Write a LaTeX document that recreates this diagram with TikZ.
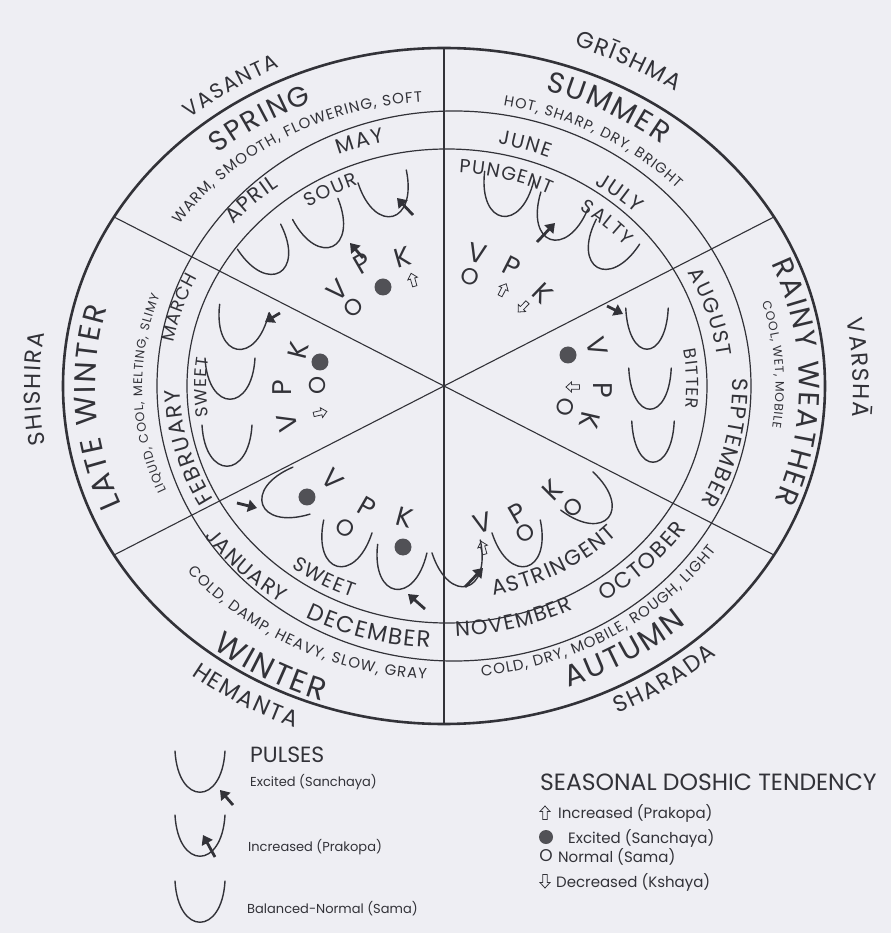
\documentclass[tikz,border=0pt]{standalone}
\usepackage{fontspec}
\setmainfont{Poppins}
\usepackage{xcolor}
\usetikzlibrary{decorations.text, arrows.meta}

\definecolor{ink}{RGB}{50,50,56}
\definecolor{paper}{RGB}{238,238,243}

% letters of a label with a little air between them
\ExplSyntaxOn
\tl_new:N \wheeltext
\NewDocumentCommand{\spacedtext}{m m}
  {
    \tl_set:Nn \wheeltext { |\fontsize{#1}{#1}\selectfont| }
    \str_map_inline:nn {#2}
      { \tl_put_right:Nn \wheeltext { ##1 {\kern0.07em} } }
  }
\ExplSyntaxOff

% text along an elliptic arc: cw = tops outward, ccw = tops inward
\newcommand{\cwtext}[4]{%
  \spacedtext{#3}{#4}%
  \path[decorate, decoration={text along path, text align=center, text color=ink,
    text/.expand once=\wheeltext}]
    ({#1+60}:{381*#2} and {338*#2})
    arc[start angle={#1+60}, end angle={#1-60}, x radius={381*#2}, y radius={338*#2}];}
\newcommand{\ccwtext}[4]{%
  \spacedtext{#3}{#4}%
  \path[decorate, decoration={text along path, text align=center, text color=ink,
    text/.expand once=\wheeltext}]
    ({#1-60}:{381*#2} and {338*#2})
    arc[start angle={#1-60}, end angle={#1+60}, x radius={381*#2}, y radius={338*#2}];}

\begin{document}
\begin{tikzpicture}[x=1pt, y=1pt, ink, line cap=round,
  rim/.style={line width=2.6pt},
  ring/.style={line width=1.2pt},
  spoke/.style={line width=1.1pt},
  pulse/.pic={\draw[line width=1.4pt] (-25,42) .. controls (-22,-13) and (22,-13) .. (25,42);},
  uparr/.pic={\draw[line width=0.8pt, line join=miter] (0,7) -- (5,1.5) -- (2.2,1.5) -- (2.2,-6.5) -- (-2.2,-6.5) -- (-2.2,1.5) -- (-5,1.5) -- cycle;},
  hit/.style={-{Triangle[length=9pt, width=12pt]}, line width=2.8pt, line cap=butt},
  dosha/.style={font=\fontsize{27}{27}\selectfont, inner sep=0pt},
  samaO/.style={font=\fontsize{23}{23}\selectfont, inner sep=0pt},
  blob/.style={circle, fill=ink!85, minimum size=17pt, inner sep=0pt},
  keytext/.style={font=\fontsize{13}{13}\selectfont, anchor=base west, inner sep=0pt}]

  \fill[paper] (-444,-547) rectangle (447,386);
  \useasboundingbox (-444,-547) rectangle (447,386);

  % wheel
  \draw[rim] (0,0) ellipse[x radius=381, y radius=338];
  \draw[ring] (10,0) ellipse[x radius=297, y radius=275];
  \draw[ring] (3,0) ellipse[x radius=260, y radius=237];
  \draw[spoke] (90:381 and 338) -- (270:381 and 338);
  \draw[spoke] (30:381 and 338) -- (210:381 and 338);
  \draw[spoke] (150:381 and 338) -- (330:381 and 338);

  % spring
  \cwtext{124.5}{1.036}{21}{VASANTA}
  \cwtext{123.7}{.908}{28}{SPRING}
  \cwtext{121.3}{.843}{15}{WARM, SMOOTH, FLOWERING, SOFT}
  \cwtext{108.4}{.738}{21}{MAY}
  \cwtext{135.1}{.731}{21}{APRIL}
  \cwtext{119.3}{.636}{19}{SOUR}
  % summer
  \cwtext{61}{1.062}{23}{GRĪSHMA}
  \cwtext{60}{.915}{29}{SUMMER}
  \cwtext{59.5}{.845}{14.5}{HOT, SHARP, DRY, BRIGHT}
  \cwtext{71.8}{.73}{20}{JUNE}
  \cwtext{48.3}{.716}{21}{JULY}
  \cwtext{73.8}{.632}{19}{PUNGENT}
  \cwtext{45.7}{.632}{19}{SALTY}
  % rainy weather
  \cwtext{15.7}{.722}{21}{AUGUST}
  \cwtext{-11.9}{.757}{22}{SEPTEMBER}
  \cwtext{1.6}{.637}{17.3}{BITTER}
  \cwtext{3.7}{.87}{12.3}{COOL, WET, MOBILE}
  \cwtext{0.5}{.933}{29}{RAINY WEATHER}
  \cwtext{2.5}{1.074}{23}{VARSHĀ}
  % late winter
  \cwtext{180.3}{1.06}{23}{SHISHIRA}
  \cwtext{183.4}{.915}{30}{LATE WINTER}
  \cwtext{181.5}{.792}{12.6}{LIQUID, COOL, MELTING, SLIMY}
  \cwtext{193.7}{.692}{22}{FEBRUARY}
  \cwtext{163}{.722}{18}{MARCH}
  \cwtext{180.2}{.624}{17.3}{SWEET}
  % autumn
  \ccwtext{-42.5}{.764}{22}{OCTOBER}
  \ccwtext{-73.9}{.741}{21}{NOVEMBER}
  \ccwtext{-59}{.633}{21.5}{ASTRINGENT}
  \ccwtext{-57}{.864}{15}{COLD, DRY, MOBILE, ROUGH, LIGHT}
  \ccwtext{-56.5}{.949}{30}{AUTUMN}
  \ccwtext{-54}{1.071}{23}{SHARADA}
  % winter
  \ccwtext{-106.4}{.775}{23}{DECEMBER}
  \ccwtext{223.5}{.77}{21}{JANUARY}
  \ccwtext{239.1}{.67}{20}{SWEET}
  \ccwtext{241.5}{.868}{15}{COLD, DAMP, HEAVY, SLOW, GRAY}
  \ccwtext{239.6}{.985}{31}{WINTER}
  \ccwtext{238.5}{1.083}{23}{HEMANTA}

  % spring doshas
  \pic[rotate=30] at (-164,113) {pulse};
  \pic[rotate=25] at (-111,139) {pulse};
  \pic[rotate=15] at (-51,169) {pulse};
  \draw[hit] (-81,128) -- (-94,143);
  \draw[hit] (-31,171) -- (-47,188);
  \node[dosha, rotate=44] (spV) at (-106,96) {V};
  \node[dosha, rotate=30] (spP) at (-81,123) {P};
  \node[dosha, rotate=16] (spK) at (-41,129) {K};
  \node[samaO, rotate=44] (spO) at (-91,79) {O};
  \node[blob] (spD) at (-61,99) {};
  \pic[rotate=16] at (-31,106) {uparr};

  % summer doshas
  \pic[rotate=-10] at (58,169) {pulse};
  \pic[rotate=-20] at (106,146) {pulse};
  \pic[rotate=-30] at (153,118) {pulse};
  \draw[hit] (93,144) -- (111,163);
  \node[dosha, rotate=-13] (suV) at (34,133) {V};
  \node[dosha, rotate=-27] (suP) at (68,119) {P};
  \node[dosha, rotate=-44] (suK) at (99,93) {K};
  \node[samaO, rotate=-13] (suO) at (26,109) {O};
  \pic[rotate=-27] at (59,96) {uparr};
  \pic[rotate=136] at (79,79) {uparr};

  % rainy doshas
  \pic[xscale=.85] at (203,36) {pulse};
  \pic[xscale=.85] at (206,-24) {pulse};
  \pic[xscale=.85] at (209,-77) {pulse};
  \draw[hit] (163,80) -- (179,72);
  \node[dosha, rotate=-74] (raV) at (153,39) {V};
  \node[dosha, rotate=-90] (raP) at (159,-4) {P};
  \node[dosha, rotate=-103] (raK) at (146,-34) {K};
  \node[blob] (raD) at (124,31) {};
  \pic[rotate=90] at (129,-1) {uparr};
  \node[samaO, rotate=-103] (raO) at (121,-21) {O};

  % autumn doshas
  \pic[rotate=15] at (23,-201) {pulse};
  \pic[rotate=15] at (83,-181) {pulse};
  \pic[rotate=50] at (165,-132) {pulse};
  \draw[hit] (21,-201) -- (39,-182);
  \node[dosha, rotate=16] (auV) at (39,-137) {V};
  \node[dosha, rotate=30] (auP) at (74,-127) {P};
  \node[dosha, rotate=45] (auK) at (109,-104) {K};
  \pic[rotate=16] at (39,-162) {uparr};
  \node[samaO, rotate=30] (auO1) at (81,-147) {O};
  \node[samaO, rotate=45] (auO2) at (129,-121) {O};

  % winter doshas
  \pic[rotate=-70] at (-182,-119) {pulse};
  \pic[rotate=-15] at (-107,-181) {pulse};
  \pic[rotate=-10] at (-49,-204) {pulse};
  \draw[hit] (-207,-117) -- (-187,-122);
  \draw[hit] (-19,-223) -- (-36,-208);
  \node[dosha, rotate=-46] (wiV) at (-111,-94) {V};
  \node[dosha, rotate=-30] (wiP) at (-77,-121) {P};
  \node[dosha, rotate=-15] (wiK) at (-39,-132) {K};
  \node[blob] (wiD1) at (-137,-111) {};
  \node[samaO, rotate=-30] (wiO) at (-99,-142) {O};
  \node[blob] (wiD2) at (-41,-161) {};

  % late winter doshas
  \pic[rotate=-10] at (-207,36) {pulse};
  \pic at (-214,-14) {pulse};
  \pic at (-217,-81) {pulse};
  \draw[hit] (-164,73) -- (-179,64);
  \node[dosha, rotate=76] (lwK) at (-146,36) {K};
  \node[dosha, rotate=90] (lwP) at (-162,-2) {P};
  \node[dosha, rotate=103] (lwV) at (-157,-37) {V};
  \node[blob] (lwD) at (-124,24) {};
  \node[samaO, rotate=90] (lwO) at (-127,1) {O};
  \pic[rotate=283] at (-124,-27) {uparr};

  % legend: pulses
  \pic at (-244,-407) {pulse};
  \draw[hit] (-211,-419) -- (-224,-404);
  \pic at (-244,-471) {pulse};
  \draw[hit] (-229,-471) -- (-241,-449);
  \pic at (-244,-537) {pulse};
  \node[keytext, font=\fontsize{22}{22}\selectfont] (pulses) at (-194,-376) {PULSES};
  \node[keytext] (pexc) at (-194,-400) {Excited (Sanchaya)};
  \node[keytext] (pinc) at (-196,-465) {Increased (Prakopa)};
  \node[keytext] (pbal) at (-197,-527) {Balanced-Normal (Sama)};

  % legend: tendency
  \node[keytext, font=\fontsize{23.5}{23.5}\selectfont] (tend) at (96,-404) {SEASONAL DOSHIC TENDENCY};
  \pic at (101,-427) {uparr};
  \node[keytext, font=\fontsize{15}{15}\selectfont] (tinc) at (114,-432) {Increased (Prakopa)};
  \node[blob, minimum size=14pt] (tdot) at (102,-451) {};
  \node[keytext, font=\fontsize{15}{15}\selectfont] (texc) at (124,-457) {Excited (Sanchaya)};
  \node[font=\fontsize{17}{17}\selectfont, inner sep=0pt] (tnorm) at (102,-470) {O};
  \node[keytext, font=\fontsize{15}{15}\selectfont] (tsam) at (114,-476) {Normal (Sama)};
  \pic[rotate=180] at (101,-495) {uparr};
  \node[keytext, font=\fontsize{15}{15}\selectfont] (tdec) at (112,-501) {Decreased (Kshaya)};
\end{tikzpicture}
\end{document}
